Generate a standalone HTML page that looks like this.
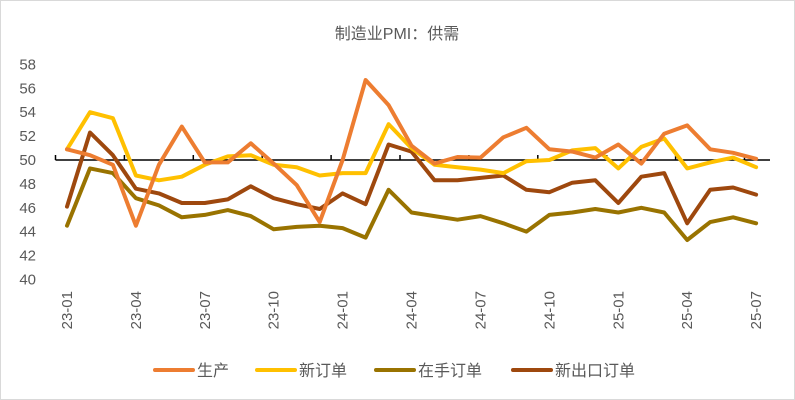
<!DOCTYPE html>
<html><head><meta charset="utf-8"><style>
html,body{margin:0;padding:0;background:#fff}
svg{display:block;font-family:"Liberation Sans","Noto Sans CJK SC",sans-serif}
</style></head><body>
<svg id="s" width="795" height="400" viewBox="0 0 795 400" xmlns="http://www.w3.org/2000/svg">
<rect x="0.5" y="0.5" width="794" height="399" fill="#fff" stroke="#d9d9d9"/>
<text x="397" y="39" text-anchor="middle" font-size="16" fill="#595959">制造业PMI：供需</text>
<g id="yl" font-size="15" fill="#595959" text-anchor="end"></g>
<g id="xl" font-size="15" fill="#595959"></g>
<g id="ax"></g>
<g id="lines" fill="none" stroke-width="4" stroke-linejoin="round" stroke-linecap="round"></g>
<g font-size="16" fill="#595959">
<line x1="155" y1="370" x2="193" y2="370" stroke="#ED7D31" stroke-width="4" stroke-linecap="round"/>
<text x="197" y="376">生产</text>
<line x1="257" y1="370" x2="295" y2="370" stroke="#FFC000" stroke-width="4" stroke-linecap="round"/>
<text x="299" y="376">新订单</text>
<line x1="376" y1="370" x2="414" y2="370" stroke="#997300" stroke-width="4" stroke-linecap="round"/>
<text x="418" y="376">在手订单</text>
<line x1="513" y1="370" x2="551" y2="370" stroke="#9E480E" stroke-width="4" stroke-linecap="round"/>
<text x="555" y="376">新出口订单</text>
</g>
</svg>
<script>
var NS="http://www.w3.org/2000/svg";
function el(t,a,p,txt){var e=document.createElementNS(NS,t);for(var k in a)e.setAttribute(k,a[k]);if(txt)e.textContent=txt;p.appendChild(e);return e;}
function Y(v){return 160-(v-50)*11.94;}
function X(i){return 67+i*22.97;}
var yl=document.getElementById('yl');
for(var v=40;v<=58;v+=2){el('text',{x:36,y:Y(v)+5},yl,String(v));}
var xl=document.getElementById('xl');
var labs=['23-01','23-04','23-07','23-10','24-01','24-04','24-07','24-10','25-01','25-04','25-07'];
for(var j=0;j<labs.length;j++){var x=X(j*3)+5;el('text',{x:0,y:0,transform:'translate('+x+',291) rotate(-90)','text-anchor':'end'},xl,labs[j]);}
var ax=document.getElementById('ax');
el('line',{x1:55.5,y1:160,x2:770,y2:160,stroke:'#000','stroke-width':1.5},ax);
for(var k=0;k<=10;k++){var tx=55.5+k*68.9;el('line',{x1:tx,y1:155,x2:tx,y2:160,stroke:'#000','stroke-width':1.5},ax);}
var data=[
['#997300',[44.5,49.3,48.9,46.8,46.2,45.2,45.4,45.8,45.3,44.2,44.4,44.5,44.3,43.5,47.5,45.6,45.3,45.0,45.3,44.7,44.0,45.4,45.6,45.9,45.6,46.0,45.6,43.3,44.8,45.2,44.7]],
['#9E480E',[46.1,52.3,50.4,47.6,47.2,46.4,46.4,46.7,47.8,46.8,46.3,45.9,47.2,46.3,51.3,50.7,48.3,48.3,48.5,48.7,47.5,47.3,48.1,48.3,46.4,48.6,48.9,44.7,47.5,47.7,47.1]],
['#FFC000',[50.9,54.0,53.5,48.7,48.3,48.6,49.6,50.3,50.4,49.6,49.4,48.7,48.9,48.9,53.0,51.0,49.6,49.4,49.2,48.9,49.9,50.0,50.8,51.0,49.3,51.1,51.8,49.3,49.8,50.2,49.4]],
['#ED7D31',[50.9,50.4,49.6,44.5,49.6,52.8,49.8,49.8,51.4,49.7,47.9,44.8,50.0,56.7,54.6,51.2,49.7,50.25,50.2,51.9,52.7,50.9,50.7,50.2,51.3,49.7,52.2,52.9,50.9,50.6,50.1]]
];
var lg=document.getElementById('lines');
data.forEach(function(d){var p=d[1].map(function(v,i){return X(i).toFixed(1)+','+Y(v).toFixed(1);}).join(' ');el('polyline',{points:p,stroke:d[0]},lg);});
</script>
</body></html>
